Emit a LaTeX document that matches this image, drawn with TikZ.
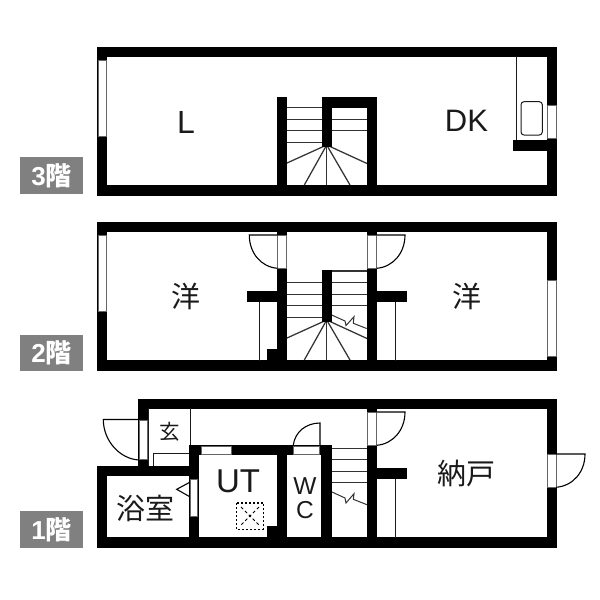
\documentclass[tikz,border=0pt]{standalone}
\usepackage{fontspec}
\setmainfont{Liberation Sans}
\newfontfamily\jpfont{Noto Sans CJK JP}
\definecolor{ink}{HTML}{1A1A1A}
\definecolor{tag}{HTML}{808080}
\tikzset{
  wallpart/.style={fill=black,draw=none},
  winpart/.style={fill=white,draw=black!60,line width=0.5pt},
  thin line/.style={draw=ink,line width=1pt},
  tread/.style={draw=black!80,line width=1.25pt},
  doorline/.style={draw=black,line width=1.1pt},
  room/.style={inner sep=0pt,text=ink},
  tagbox/.style={fill=tag,draw=none},
  tagtext/.style={inner sep=0pt,text=white,font=\bfseries\fontsize{26}{26}\selectfont},
}
\newcommand{\wallrect}[4]{\fill[wallpart] (#1,#2) rectangle (#3,#4);}
\newcommand{\winrect}[4]{\path[winpart] (#1,#2) rectangle (#3,#4);}
\newcommand{\stairfan}[1]{%
  \draw[tread] (326.7,#1) -- (287,#1+18);
  \draw[tread] (326.7,#1) -- (304.3,#1+40);
  \draw[tread] (326.7,#1) -- (326.7,#1+40);
  \draw[tread] (326.7,#1) -- (350,#1+40);
  \draw[tread] (326.7,#1) -- (367,#1+18.5);}
\begin{document}
\begin{tikzpicture}[x=1pt,y=-1pt]
\useasboundingbox (0,0) rectangle (600,600);
\fill[white] (0,0) rectangle (600,600);
% ---------- 3F ----------
\wallrect{97}{46.7}{557}{56.7}
\wallrect{97}{185.3}{557}{195.7}
\wallrect{97}{46.7}{107}{195.7}
\wallrect{546.7}{46.7}{557}{195.7}
\winrect{98}{60}{106}{136.7}
\winrect{547.7}{105}{556}{138.3}
\foreach \yy in {107.3,119.3,130.7,142.3} \draw[tread] (287,\yy) -- (322,\yy);
\foreach \yy in {119.3,130.7} \draw[tread] (332,\yy) -- (367,\yy);
\stairfan{145}
\wallrect{276.7}{96.7}{287.3}{190}
\wallrect{321.7}{97.3}{332.3}{146.5}
\wallrect{321.7}{97.3}{377.3}{108.3}
\wallrect{366.7}{97.3}{377.3}{190}
\draw[thin line] (516,56) -- (516,141);
\wallrect{513.3}{140}{547}{151}
\draw[thin line,rounded corners=3pt] (521,101.7) rectangle (542.3,135);
\node[room,font=\fontsize{32}{32}\selectfont] (labelL) at (186,122) {L};
\node[room,font=\fontsize{31}{31}\selectfont] (labelDK) at (466.5,121) {DK};
\fill[tagbox] (20,157) rectangle (82.5,193.5);
\node[tagtext] (tagthree) at (51.5,175.5) {3{\jpfont 階}};
% ---------- 2F ----------
\wallrect{97}{221.7}{557}{232}
\wallrect{97}{360.3}{557}{371}
\wallrect{97}{221.7}{107}{371}
\wallrect{546.7}{221.7}{557}{371}
\winrect{98}{235}{106}{311.7}
\winrect{547.7}{280.7}{556}{356.7}
\foreach \yy in {282.7,294.3,305.7,317.3} \draw[tread] (287,\yy) -- (322,\yy);
\foreach \yy in {271,282.7,294.3,305.7} \draw[tread] (332,\yy) -- (367,\yy);
\stairfan{320}
\draw[tread,line width=1pt] (331.7,315) -- (345,321) -- (346,325.5) -- (354,316.7) -- (353.3,323.3) -- (366.7,328.5);
\wallrect{276.7}{232}{287.3}{362}
\wallrect{366.7}{232}{377.3}{362}
\wallrect{321.7}{270}{332.3}{321.5}
\winrect{277.7}{235}{286.5}{268.3}
\winrect{367.7}{235}{376.7}{268.3}
\wallrect{247.3}{291.3}{277}{302}
\wallrect{377}{291.3}{406.7}{302}
\wallrect{267.3}{349.3}{277}{361}
\draw[thin line] (259,302) -- (259,361);
\draw[thin line] (395,302) -- (395,361);
\draw[doorline] (277.5,235) -- (249.3,235) .. controls (249.3,253) and (261,267) .. (277.5,268.3);
\draw[doorline] (376.7,235) -- (405,235) .. controls (405,253) and (393,267) .. (376.7,268.3);
\node[room,font=\jpfont\fontsize{29}{29}\selectfont] (labelWestA) at (186,296.5) {洋};
\node[room,font=\jpfont\fontsize{29}{29}\selectfont] (labelWestB) at (466.5,296.5) {洋};
\fill[tagbox] (20,334.5) rectangle (82.5,371);
\node[tagtext] (tagtwo) at (51.5,353) {2{\jpfont 階}};
% ---------- 1F ----------
\wallrect{138.3}{398.7}{557}{408.7}
\wallrect{97}{537.3}{557}{548}
\wallrect{138.3}{398.7}{148.3}{470}
\wallrect{97}{466}{199}{476.3}
\wallrect{97}{466}{107}{548}
\wallrect{188.7}{444.7}{199}{548}
\wallrect{188.7}{444.7}{332.3}{455.3}
\wallrect{276.7}{444.7}{287.3}{548}
\wallrect{321.3}{444.7}{332.3}{548}
\wallrect{366.7}{408.7}{377.3}{548}
\wallrect{546.7}{398.7}{557}{548}
\wallrect{267.3}{526.3}{277}{538}
\wallrect{377}{468.3}{406.7}{479}
\winrect{139}{420}{147}{459.7}
\winrect{201}{446}{231.7}{454}
\winrect{293.3}{446}{319.3}{454}
\winrect{190}{479.7}{197.7}{516}
\winrect{367.7}{412}{376.7}{445.3}
\winrect{547.7}{454.3}{556}{487}
\foreach \yy in {448.7,459.7,471.3,482.7} \draw[tread] (332,\yy) -- (367,\yy);
\draw[tread,line width=1pt] (332,492) -- (345,498) -- (346,503) -- (354,493.7) -- (353.3,499.3) -- (367,504.7);
\draw[thin line] (148.6,408) -- (148.6,466);
\draw[thin line] (190.7,408) -- (190.7,445);
\draw[thin line] (153.3,466) -- (153.3,453) -- (189,453);
\draw[thin line] (395,479) -- (395,538);
\draw[doorline] (139,419.5) -- (103.3,419.5) .. controls (103.3,441) and (120,459) .. (139,460);
\draw[doorline] (320,445) -- (320,423) .. controls (306,423) and (295,432) .. (293.3,445);
\draw[doorline] (376.7,412) -- (405,412) .. controls (405,430) and (393,444) .. (376.7,445.3);
\draw[doorline] (556,454) -- (585,454) .. controls (585,472) and (573,486) .. (556,487.3);
\draw[doorline] (189,482.7) -- (176.7,489.3) -- (189,496.3);
\draw[black,line width=1.2pt,dash pattern=on 2pt off 2pt] (236.7,503) rectangle (263.3,529.3);
\draw[black,line width=0.9pt,dash pattern=on 3pt off 2.5pt] (241,507) -- (259,525) (259,507) -- (241,525);
\node[room,font=\jpfont\fontsize{20.5}{20.5}\selectfont] (labelEntry) at (169.3,432) {玄};
\node[room,font=\jpfont\fontsize{29}{29}\selectfont] (labelBath) at (145,508.5) {浴室};
\node[room,font=\fontsize{33}{33}\selectfont] (labelUT) at (238,481) {UT};
\node[room,font=\fontsize{24.5}{24.5}\selectfont] (labelW) at (305,486) {W};
\node[room,font=\fontsize{24.5}{24.5}\selectfont] (labelC) at (305,510.5) {C};
\node[room,font=\jpfont\fontsize{29}{29}\selectfont] (labelStore) at (466,473.5) {納戸};
\fill[tagbox] (20,511) rectangle (82.5,547.5);
\node[tagtext] (tagone) at (51.5,529.5) {1{\jpfont 階}};
\end{tikzpicture}
\end{document}
